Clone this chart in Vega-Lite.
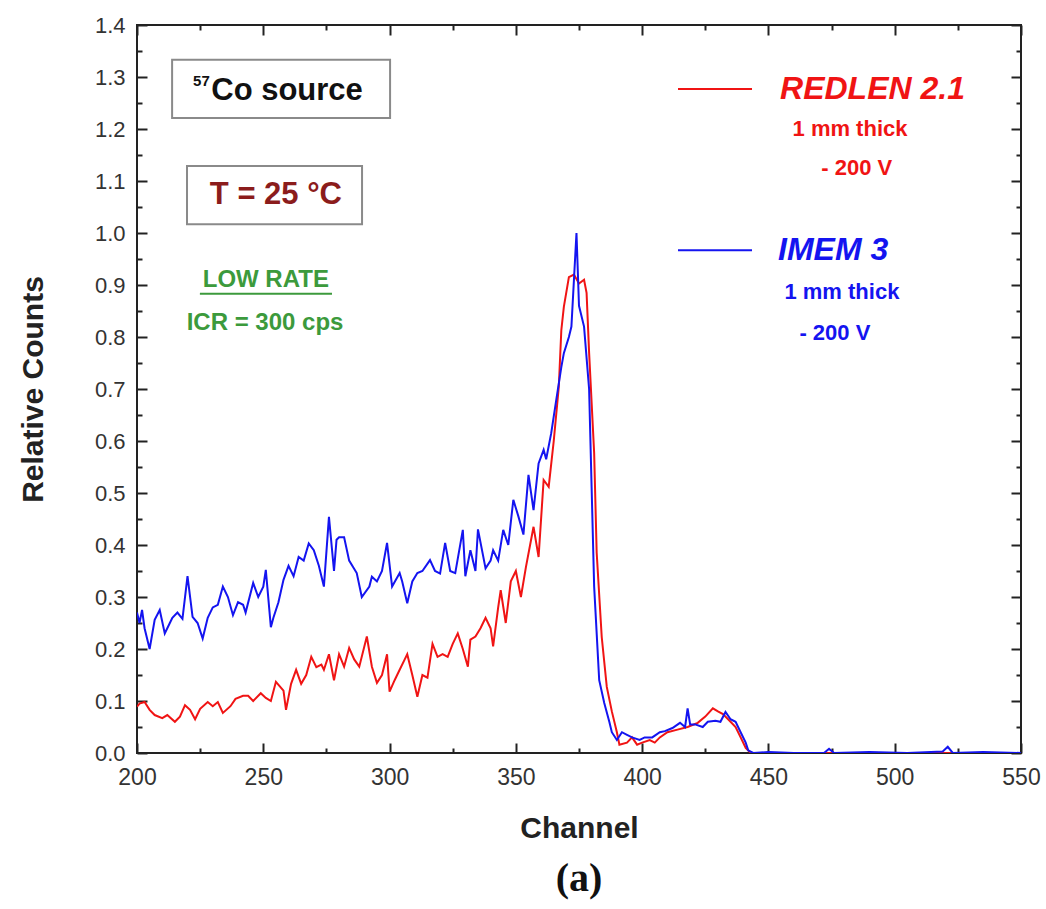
{
  "$schema": "https://vega.github.io/schema/vega-lite/v6.json",
  "width": 884,
  "height": 728,
  "autosize": "none",
  "padding": {"left": 137, "top": 25, "right": 25, "bottom": 156},
  "background": "white",
  "config": {"view": {"stroke": "#222", "strokeWidth": 2}, "font": "Liberation Sans"},
  "title": {"text": "(a)", "orient": "bottom", "font": "Liberation Serif", "fontSize": 40, "fontWeight": "bold", "offset": 16, "color": "#111"},
  "datasets": {
    "spectra": [
      {"detector": "REDLEN", "channel": 200, "counts": 0.089},
      {"detector": "REDLEN", "channel": 201, "counts": 0.095},
      {"detector": "REDLEN", "channel": 203, "counts": 0.098},
      {"detector": "REDLEN", "channel": 205, "counts": 0.083},
      {"detector": "REDLEN", "channel": 207, "counts": 0.073},
      {"detector": "REDLEN", "channel": 210, "counts": 0.067},
      {"detector": "REDLEN", "channel": 212, "counts": 0.073},
      {"detector": "REDLEN", "channel": 215, "counts": 0.06},
      {"detector": "REDLEN", "channel": 217, "counts": 0.07},
      {"detector": "REDLEN", "channel": 219, "counts": 0.092},
      {"detector": "REDLEN", "channel": 221, "counts": 0.083},
      {"detector": "REDLEN", "channel": 223, "counts": 0.065},
      {"detector": "REDLEN", "channel": 225, "counts": 0.085},
      {"detector": "REDLEN", "channel": 228, "counts": 0.098},
      {"detector": "REDLEN", "channel": 230, "counts": 0.09},
      {"detector": "REDLEN", "channel": 232, "counts": 0.098},
      {"detector": "REDLEN", "channel": 234, "counts": 0.077},
      {"detector": "REDLEN", "channel": 237, "counts": 0.09},
      {"detector": "REDLEN", "channel": 239, "counts": 0.104},
      {"detector": "REDLEN", "channel": 242, "counts": 0.11},
      {"detector": "REDLEN", "channel": 244, "counts": 0.11},
      {"detector": "REDLEN", "channel": 246, "counts": 0.1},
      {"detector": "REDLEN", "channel": 249, "counts": 0.115},
      {"detector": "REDLEN", "channel": 251, "counts": 0.106},
      {"detector": "REDLEN", "channel": 253, "counts": 0.1},
      {"detector": "REDLEN", "channel": 255, "counts": 0.137},
      {"detector": "REDLEN", "channel": 258, "counts": 0.12},
      {"detector": "REDLEN", "channel": 259, "counts": 0.083},
      {"detector": "REDLEN", "channel": 261, "counts": 0.133},
      {"detector": "REDLEN", "channel": 263, "counts": 0.16},
      {"detector": "REDLEN", "channel": 265, "counts": 0.133},
      {"detector": "REDLEN", "channel": 267, "counts": 0.15},
      {"detector": "REDLEN", "channel": 269, "counts": 0.185},
      {"detector": "REDLEN", "channel": 271, "counts": 0.165},
      {"detector": "REDLEN", "channel": 273, "counts": 0.17},
      {"detector": "REDLEN", "channel": 274, "counts": 0.16},
      {"detector": "REDLEN", "channel": 276, "counts": 0.19},
      {"detector": "REDLEN", "channel": 278, "counts": 0.14},
      {"detector": "REDLEN", "channel": 280, "counts": 0.19},
      {"detector": "REDLEN", "channel": 282, "counts": 0.166},
      {"detector": "REDLEN", "channel": 284, "counts": 0.202},
      {"detector": "REDLEN", "channel": 286, "counts": 0.18},
      {"detector": "REDLEN", "channel": 288, "counts": 0.166},
      {"detector": "REDLEN", "channel": 291, "counts": 0.224},
      {"detector": "REDLEN", "channel": 293, "counts": 0.166},
      {"detector": "REDLEN", "channel": 295, "counts": 0.135},
      {"detector": "REDLEN", "channel": 297, "counts": 0.15},
      {"detector": "REDLEN", "channel": 299, "counts": 0.19},
      {"detector": "REDLEN", "channel": 300, "counts": 0.118},
      {"detector": "REDLEN", "channel": 302, "counts": 0.14},
      {"detector": "REDLEN", "channel": 304, "counts": 0.16},
      {"detector": "REDLEN", "channel": 306, "counts": 0.18},
      {"detector": "REDLEN", "channel": 307, "counts": 0.19},
      {"detector": "REDLEN", "channel": 309, "counts": 0.15},
      {"detector": "REDLEN", "channel": 311, "counts": 0.108},
      {"detector": "REDLEN", "channel": 313, "counts": 0.15},
      {"detector": "REDLEN", "channel": 315, "counts": 0.145},
      {"detector": "REDLEN", "channel": 317, "counts": 0.21},
      {"detector": "REDLEN", "channel": 319, "counts": 0.185},
      {"detector": "REDLEN", "channel": 321, "counts": 0.19},
      {"detector": "REDLEN", "channel": 323, "counts": 0.185},
      {"detector": "REDLEN", "channel": 325, "counts": 0.21},
      {"detector": "REDLEN", "channel": 327, "counts": 0.23},
      {"detector": "REDLEN", "channel": 329, "counts": 0.2},
      {"detector": "REDLEN", "channel": 331, "counts": 0.166},
      {"detector": "REDLEN", "channel": 332, "counts": 0.218},
      {"detector": "REDLEN", "channel": 334, "counts": 0.224},
      {"detector": "REDLEN", "channel": 336, "counts": 0.24},
      {"detector": "REDLEN", "channel": 338, "counts": 0.26},
      {"detector": "REDLEN", "channel": 340, "counts": 0.24},
      {"detector": "REDLEN", "channel": 341, "counts": 0.205},
      {"detector": "REDLEN", "channel": 343, "counts": 0.28},
      {"detector": "REDLEN", "channel": 344, "counts": 0.313},
      {"detector": "REDLEN", "channel": 346, "counts": 0.25},
      {"detector": "REDLEN", "channel": 348, "counts": 0.33},
      {"detector": "REDLEN", "channel": 350, "counts": 0.35},
      {"detector": "REDLEN", "channel": 352, "counts": 0.3},
      {"detector": "REDLEN", "channel": 354, "counts": 0.358},
      {"detector": "REDLEN", "channel": 357, "counts": 0.435},
      {"detector": "REDLEN", "channel": 359, "counts": 0.377},
      {"detector": "REDLEN", "channel": 361, "counts": 0.525},
      {"detector": "REDLEN", "channel": 363, "counts": 0.512},
      {"detector": "REDLEN", "channel": 365, "counts": 0.6},
      {"detector": "REDLEN", "channel": 367, "counts": 0.704},
      {"detector": "REDLEN", "channel": 368, "counts": 0.813},
      {"detector": "REDLEN", "channel": 369, "counts": 0.858},
      {"detector": "REDLEN", "channel": 371, "counts": 0.915},
      {"detector": "REDLEN", "channel": 373, "counts": 0.92},
      {"detector": "REDLEN", "channel": 375, "counts": 0.903},
      {"detector": "REDLEN", "channel": 377, "counts": 0.91},
      {"detector": "REDLEN", "channel": 378, "counts": 0.885},
      {"detector": "REDLEN", "channel": 379, "counts": 0.77},
      {"detector": "REDLEN", "channel": 381, "counts": 0.577},
      {"detector": "REDLEN", "channel": 382, "counts": 0.385},
      {"detector": "REDLEN", "channel": 384, "counts": 0.223},
      {"detector": "REDLEN", "channel": 386, "counts": 0.127},
      {"detector": "REDLEN", "channel": 388, "counts": 0.08},
      {"detector": "REDLEN", "channel": 390, "counts": 0.04},
      {"detector": "REDLEN", "channel": 391, "counts": 0.016},
      {"detector": "REDLEN", "channel": 394, "counts": 0.02},
      {"detector": "REDLEN", "channel": 396, "counts": 0.03},
      {"detector": "REDLEN", "channel": 398, "counts": 0.016},
      {"detector": "REDLEN", "channel": 400, "counts": 0.02},
      {"detector": "REDLEN", "channel": 403, "counts": 0.025},
      {"detector": "REDLEN", "channel": 405, "counts": 0.02},
      {"detector": "REDLEN", "channel": 407, "counts": 0.03},
      {"detector": "REDLEN", "channel": 410, "counts": 0.04},
      {"detector": "REDLEN", "channel": 414, "counts": 0.045},
      {"detector": "REDLEN", "channel": 418, "counts": 0.05},
      {"detector": "REDLEN", "channel": 422, "counts": 0.058},
      {"detector": "REDLEN", "channel": 425, "counts": 0.07},
      {"detector": "REDLEN", "channel": 428, "counts": 0.086},
      {"detector": "REDLEN", "channel": 430, "counts": 0.08},
      {"detector": "REDLEN", "channel": 432, "counts": 0.075},
      {"detector": "REDLEN", "channel": 435, "counts": 0.06},
      {"detector": "REDLEN", "channel": 437, "counts": 0.05},
      {"detector": "REDLEN", "channel": 439, "counts": 0.03},
      {"detector": "REDLEN", "channel": 441, "counts": 0.01},
      {"detector": "REDLEN", "channel": 443, "counts": 0.0},
      {"detector": "REDLEN", "channel": 500, "counts": 0.0},
      {"detector": "REDLEN", "channel": 550, "counts": 0.0},
      {"detector": "IMEM", "channel": 200, "counts": 0.27},
      {"detector": "IMEM", "channel": 201, "counts": 0.25},
      {"detector": "IMEM", "channel": 202, "counts": 0.275},
      {"detector": "IMEM", "channel": 203, "counts": 0.24},
      {"detector": "IMEM", "channel": 205, "counts": 0.2},
      {"detector": "IMEM", "channel": 207, "counts": 0.256},
      {"detector": "IMEM", "channel": 209, "counts": 0.275},
      {"detector": "IMEM", "channel": 211, "counts": 0.23},
      {"detector": "IMEM", "channel": 213, "counts": 0.25},
      {"detector": "IMEM", "channel": 214, "counts": 0.26},
      {"detector": "IMEM", "channel": 216, "counts": 0.27},
      {"detector": "IMEM", "channel": 218, "counts": 0.258},
      {"detector": "IMEM", "channel": 220, "counts": 0.34},
      {"detector": "IMEM", "channel": 222, "counts": 0.262},
      {"detector": "IMEM", "channel": 224, "counts": 0.25},
      {"detector": "IMEM", "channel": 226, "counts": 0.22},
      {"detector": "IMEM", "channel": 228, "counts": 0.26},
      {"detector": "IMEM", "channel": 230, "counts": 0.28},
      {"detector": "IMEM", "channel": 232, "counts": 0.285},
      {"detector": "IMEM", "channel": 234, "counts": 0.32},
      {"detector": "IMEM", "channel": 236, "counts": 0.3},
      {"detector": "IMEM", "channel": 238, "counts": 0.265},
      {"detector": "IMEM", "channel": 240, "counts": 0.29},
      {"detector": "IMEM", "channel": 242, "counts": 0.285},
      {"detector": "IMEM", "channel": 243, "counts": 0.27},
      {"detector": "IMEM", "channel": 246, "counts": 0.327},
      {"detector": "IMEM", "channel": 248, "counts": 0.3},
      {"detector": "IMEM", "channel": 250, "counts": 0.32},
      {"detector": "IMEM", "channel": 251, "counts": 0.352},
      {"detector": "IMEM", "channel": 253, "counts": 0.242},
      {"detector": "IMEM", "channel": 254, "counts": 0.26},
      {"detector": "IMEM", "channel": 256, "counts": 0.29},
      {"detector": "IMEM", "channel": 258, "counts": 0.333},
      {"detector": "IMEM", "channel": 260, "counts": 0.36},
      {"detector": "IMEM", "channel": 262, "counts": 0.34},
      {"detector": "IMEM", "channel": 264, "counts": 0.377},
      {"detector": "IMEM", "channel": 266, "counts": 0.37},
      {"detector": "IMEM", "channel": 268, "counts": 0.403},
      {"detector": "IMEM", "channel": 270, "counts": 0.39},
      {"detector": "IMEM", "channel": 272, "counts": 0.36},
      {"detector": "IMEM", "channel": 274, "counts": 0.32},
      {"detector": "IMEM", "channel": 276, "counts": 0.454},
      {"detector": "IMEM", "channel": 278, "counts": 0.35},
      {"detector": "IMEM", "channel": 279, "counts": 0.41},
      {"detector": "IMEM", "channel": 280, "counts": 0.415},
      {"detector": "IMEM", "channel": 282, "counts": 0.415},
      {"detector": "IMEM", "channel": 284, "counts": 0.37},
      {"detector": "IMEM", "channel": 287, "counts": 0.346},
      {"detector": "IMEM", "channel": 289, "counts": 0.3},
      {"detector": "IMEM", "channel": 292, "counts": 0.32},
      {"detector": "IMEM", "channel": 293, "counts": 0.339},
      {"detector": "IMEM", "channel": 295, "counts": 0.33},
      {"detector": "IMEM", "channel": 297, "counts": 0.35},
      {"detector": "IMEM", "channel": 299, "counts": 0.404},
      {"detector": "IMEM", "channel": 301, "counts": 0.32},
      {"detector": "IMEM", "channel": 304, "counts": 0.346},
      {"detector": "IMEM", "channel": 305, "counts": 0.33},
      {"detector": "IMEM", "channel": 307, "counts": 0.288},
      {"detector": "IMEM", "channel": 309, "counts": 0.33},
      {"detector": "IMEM", "channel": 311, "counts": 0.346},
      {"detector": "IMEM", "channel": 313, "counts": 0.35},
      {"detector": "IMEM", "channel": 316, "counts": 0.371},
      {"detector": "IMEM", "channel": 318, "counts": 0.35},
      {"detector": "IMEM", "channel": 320, "counts": 0.345},
      {"detector": "IMEM", "channel": 322, "counts": 0.404},
      {"detector": "IMEM", "channel": 324, "counts": 0.35},
      {"detector": "IMEM", "channel": 326, "counts": 0.346},
      {"detector": "IMEM", "channel": 329, "counts": 0.429},
      {"detector": "IMEM", "channel": 330, "counts": 0.34},
      {"detector": "IMEM", "channel": 332, "counts": 0.39},
      {"detector": "IMEM", "channel": 334, "counts": 0.35},
      {"detector": "IMEM", "channel": 335, "counts": 0.43},
      {"detector": "IMEM", "channel": 338, "counts": 0.355},
      {"detector": "IMEM", "channel": 340, "counts": 0.37},
      {"detector": "IMEM", "channel": 341, "counts": 0.39},
      {"detector": "IMEM", "channel": 343, "counts": 0.37},
      {"detector": "IMEM", "channel": 345, "counts": 0.429},
      {"detector": "IMEM", "channel": 347, "counts": 0.4},
      {"detector": "IMEM", "channel": 349, "counts": 0.487},
      {"detector": "IMEM", "channel": 351, "counts": 0.455},
      {"detector": "IMEM", "channel": 353, "counts": 0.42},
      {"detector": "IMEM", "channel": 355, "counts": 0.535},
      {"detector": "IMEM", "channel": 357, "counts": 0.467},
      {"detector": "IMEM", "channel": 359, "counts": 0.557},
      {"detector": "IMEM", "channel": 361, "counts": 0.583},
      {"detector": "IMEM", "channel": 362, "counts": 0.565},
      {"detector": "IMEM", "channel": 364, "counts": 0.615},
      {"detector": "IMEM", "channel": 366, "counts": 0.679},
      {"detector": "IMEM", "channel": 368, "counts": 0.742},
      {"detector": "IMEM", "channel": 369, "counts": 0.769},
      {"detector": "IMEM", "channel": 371, "counts": 0.8},
      {"detector": "IMEM", "channel": 372, "counts": 0.82},
      {"detector": "IMEM", "channel": 374, "counts": 1.0},
      {"detector": "IMEM", "channel": 375, "counts": 0.86},
      {"detector": "IMEM", "channel": 377, "counts": 0.82},
      {"detector": "IMEM", "channel": 379, "counts": 0.7},
      {"detector": "IMEM", "channel": 380, "counts": 0.51},
      {"detector": "IMEM", "channel": 381, "counts": 0.32},
      {"detector": "IMEM", "channel": 383, "counts": 0.14},
      {"detector": "IMEM", "channel": 385, "counts": 0.096},
      {"detector": "IMEM", "channel": 387, "counts": 0.06},
      {"detector": "IMEM", "channel": 388, "counts": 0.04},
      {"detector": "IMEM", "channel": 390, "counts": 0.025},
      {"detector": "IMEM", "channel": 392, "counts": 0.04},
      {"detector": "IMEM", "channel": 394, "counts": 0.035},
      {"detector": "IMEM", "channel": 396, "counts": 0.03},
      {"detector": "IMEM", "channel": 399, "counts": 0.025},
      {"detector": "IMEM", "channel": 401, "counts": 0.03},
      {"detector": "IMEM", "channel": 404, "counts": 0.03},
      {"detector": "IMEM", "channel": 407, "counts": 0.04},
      {"detector": "IMEM", "channel": 409, "counts": 0.042},
      {"detector": "IMEM", "channel": 412, "counts": 0.048},
      {"detector": "IMEM", "channel": 415, "counts": 0.058},
      {"detector": "IMEM", "channel": 417, "counts": 0.05},
      {"detector": "IMEM", "channel": 418, "counts": 0.086},
      {"detector": "IMEM", "channel": 419, "counts": 0.055},
      {"detector": "IMEM", "channel": 421, "counts": 0.055},
      {"detector": "IMEM", "channel": 424, "counts": 0.05},
      {"detector": "IMEM", "channel": 426, "counts": 0.06},
      {"detector": "IMEM", "channel": 429, "counts": 0.062},
      {"detector": "IMEM", "channel": 431, "counts": 0.06},
      {"detector": "IMEM", "channel": 433, "counts": 0.079},
      {"detector": "IMEM", "channel": 435, "counts": 0.065},
      {"detector": "IMEM", "channel": 437, "counts": 0.06},
      {"detector": "IMEM", "channel": 439, "counts": 0.04},
      {"detector": "IMEM", "channel": 441, "counts": 0.02},
      {"detector": "IMEM", "channel": 442, "counts": 0.005},
      {"detector": "IMEM", "channel": 444, "counts": 0.0},
      {"detector": "IMEM", "channel": 450, "counts": 0.002},
      {"detector": "IMEM", "channel": 460, "counts": 0.0},
      {"detector": "IMEM", "channel": 472, "counts": 0.0},
      {"detector": "IMEM", "channel": 474, "counts": 0.008},
      {"detector": "IMEM", "channel": 476, "counts": 0.0},
      {"detector": "IMEM", "channel": 490, "counts": 0.002},
      {"detector": "IMEM", "channel": 505, "counts": 0.0},
      {"detector": "IMEM", "channel": 519, "counts": 0.003},
      {"detector": "IMEM", "channel": 521, "counts": 0.012},
      {"detector": "IMEM", "channel": 523, "counts": 0.0},
      {"detector": "IMEM", "channel": 535, "counts": 0.002},
      {"detector": "IMEM", "channel": 550, "counts": 0.0}
    ],
    "boxes": [
      {"box": "source", "x1": 213.9, "x2": 300.2, "y1": 1.333, "y2": 1.221},
      {"box": "temperature", "x1": 219.8, "x2": 289.1, "y1": 1.129, "y2": 1.017}
    ],
    "legendLines": [
      {"detector": "REDLEN", "x1": 414.2, "x2": 443.5, "y": 1.277},
      {"detector": "IMEM", "x1": 414.2, "x2": 443.5, "y": 0.967}
    ],
    "legendNames": [
      {"detector": "REDLEN", "label": "REDLEN 2.1", "channel": 454.6, "counts": 1.277},
      {"detector": "IMEM", "label": "IMEM  3", "channel": 453.8, "counts": 0.967}
    ],
    "legendNotes": [
      {"detector": "REDLEN", "label": "1 mm thick", "channel": 482.3, "counts": 1.2},
      {"detector": "REDLEN", "label": "- 200 V", "channel": 485.0, "counts": 1.125},
      {"detector": "IMEM", "label": "1 mm thick", "channel": 479.1, "counts": 0.887},
      {"detector": "IMEM", "label": "- 200 V", "channel": 476.3, "counts": 0.808}
    ],
    "greenNotes": [
      {"label": "LOW RATE", "channel": 251.0, "counts": 0.91},
      {"label": "ICR = 300 cps", "channel": 250.7, "counts": 0.827}
    ],
    "underline": [
      {"x1": 224.9, "x2": 277.2, "y": 0.883}
    ]
  },
  "layer": [
    {
      "data": {"name": "spectra"},
      "transform": [{"filter": "datum.detector === 'REDLEN'"}],
      "mark": {"type": "line", "strokeWidth": 2, "clip": true},
      "encoding": {
        "x": {"field": "channel", "type": "quantitative",
          "scale": {"domain": [200, 550], "nice": false, "zero": false},
          "axis": {"orient": "bottom", "values": [200, 225, 250, 275, 300, 325, 350, 375, 400, 425, 450, 475, 500, 525, 550],
            "labelExpr": "datum.value % 50 === 0 ? datum.label : ''", "labelFlush": false,
            "tickSize": {"condition": {"test": "datum.value % 50 === 0", "value": -10}, "value": -5},
            "tickColor": "#222", "tickWidth": 2, "domain": false, "grid": false,
            "labelFontSize": 23, "labelColor": "#333", "labelPadding": 23,
            "title": "Channel", "titleFontSize": 30, "titleFontWeight": "bold", "titleColor": "#222", "titlePadding": 24}},
        "y": {"field": "counts", "type": "quantitative",
          "scale": {"domain": [0, 1.4], "nice": false, "zero": false},
          "axis": {"orient": "left", "values": [0, 0.05, 0.1, 0.15, 0.2, 0.25, 0.3, 0.35, 0.4, 0.45, 0.5, 0.55, 0.6, 0.65, 0.7, 0.75, 0.8, 0.85, 0.9, 0.95, 1.0, 1.05, 1.1, 1.15, 1.2, 1.25, 1.3, 1.35, 1.4],
            "labelExpr": "round(datum.value * 100) % 10 === 0 ? format(datum.value, '.1f') : ''", "labelFlush": false,
            "tickSize": {"condition": {"test": "round(datum.value * 100) % 10 === 0", "value": -10}, "value": -5},
            "tickColor": "#222", "tickWidth": 2, "domain": false, "grid": false,
            "labelFontSize": 22, "labelColor": "#333", "labelPadding": 22,
            "title": "Relative Counts", "titleFontSize": 30, "titleFontWeight": "bold", "titleColor": "#222", "titlePadding": 46}},
        "color": {"field": "detector", "type": "nominal", "scale": {"domain": ["REDLEN", "IMEM"], "range": ["#f01414", "#1414f0"]}, "legend": null}
      }
    },
    {
      "data": {"name": "spectra"},
      "transform": [{"filter": "datum.detector === 'IMEM'"}],
      "mark": {"type": "line", "strokeWidth": 2, "clip": true},
      "encoding": {
        "x": {"field": "channel", "type": "quantitative",
          "axis": {"orient": "top", "values": [200, 225, 250, 275, 300, 325, 350, 375, 400, 425, 450, 475, 500, 525, 550],
            "labels": false,
            "tickSize": {"condition": {"test": "datum.value % 50 === 0", "value": -10}, "value": -5},
            "tickColor": "#222", "tickWidth": 2, "domain": false, "grid": false, "title": null}},
        "y": {"field": "counts", "type": "quantitative",
          "axis": {"orient": "right", "values": [0, 0.05, 0.1, 0.15, 0.2, 0.25, 0.3, 0.35, 0.4, 0.45, 0.5, 0.55, 0.6, 0.65, 0.7, 0.75, 0.8, 0.85, 0.9, 0.95, 1.0, 1.05, 1.1, 1.15, 1.2, 1.25, 1.3, 1.35, 1.4],
            "labels": false,
            "tickSize": {"condition": {"test": "round(datum.value * 100) % 10 === 0", "value": -10}, "value": -5},
            "tickColor": "#222", "tickWidth": 2, "domain": false, "grid": false, "title": null}},
        "color": {"field": "detector", "type": "nominal", "legend": null}
      }
    },
    {
      "data": {"name": "boxes"},
      "mark": {"type": "rect", "fill": "white", "stroke": "#8a8a8a", "strokeWidth": 2},
      "encoding": {
        "x": {"field": "x1", "type": "quantitative", "axis": null},
        "x2": {"field": "x2"},
        "y": {"field": "y1", "type": "quantitative", "axis": null},
        "y2": {"field": "y2"}
      }
    },
    {
      "data": {"values": [{"label": "57", "channel": 222.2, "counts": 1.292}]},
      "mark": {"type": "text", "fontSize": 15, "fontWeight": "bold", "color": "#111", "align": "left", "baseline": "middle"},
      "encoding": {
        "x": {"field": "channel", "type": "quantitative", "axis": null},
        "y": {"field": "counts", "type": "quantitative", "axis": null},
        "text": {"field": "label"}
      }
    },
    {
      "data": {"values": [{"label": "Co source", "channel": 229.4, "counts": 1.273}]},
      "mark": {"type": "text", "fontSize": 31, "fontWeight": "bold", "color": "#111", "align": "left", "baseline": "middle"},
      "encoding": {
        "x": {"field": "channel", "type": "quantitative", "axis": null},
        "y": {"field": "counts", "type": "quantitative", "axis": null},
        "text": {"field": "label"}
      }
    },
    {
      "data": {"values": [{"label": "T = 25 °C", "channel": 255.0, "counts": 1.073}]},
      "mark": {"type": "text", "fontSize": 31, "fontWeight": "bold", "color": "#8b1c1c", "align": "center", "baseline": "middle"},
      "encoding": {
        "x": {"field": "channel", "type": "quantitative", "axis": null},
        "y": {"field": "counts", "type": "quantitative", "axis": null},
        "text": {"field": "label"}
      }
    },
    {
      "data": {"name": "greenNotes"},
      "mark": {"type": "text", "fontSize": 24, "fontWeight": "bold", "color": "#3c9a3c", "align": "center", "baseline": "middle"},
      "encoding": {
        "x": {"field": "channel", "type": "quantitative", "axis": null},
        "y": {"field": "counts", "type": "quantitative", "axis": null},
        "text": {"field": "label"}
      }
    },
    {
      "data": {"name": "underline"},
      "mark": {"type": "rule", "color": "#3c9a3c", "strokeWidth": 2},
      "encoding": {
        "x": {"field": "x1", "type": "quantitative", "axis": null},
        "x2": {"field": "x2"},
        "y": {"field": "y", "type": "quantitative", "axis": null}
      }
    },
    {
      "data": {"name": "legendLines"},
      "mark": {"type": "rule", "strokeWidth": 2},
      "encoding": {
        "x": {"field": "x1", "type": "quantitative", "axis": null},
        "x2": {"field": "x2"},
        "y": {"field": "y", "type": "quantitative", "axis": null},
        "color": {"field": "detector", "type": "nominal", "legend": null}
      }
    },
    {
      "data": {"name": "legendNames"},
      "mark": {"type": "text", "fontSize": 32, "fontWeight": "bold", "fontStyle": "italic", "align": "left", "baseline": "middle"},
      "encoding": {
        "x": {"field": "channel", "type": "quantitative", "axis": null},
        "y": {"field": "counts", "type": "quantitative", "axis": null},
        "text": {"field": "label"},
        "color": {"field": "detector", "type": "nominal", "legend": null}
      }
    },
    {
      "data": {"name": "legendNotes"},
      "mark": {"type": "text", "fontSize": 22, "fontWeight": "bold", "align": "center", "baseline": "middle"},
      "encoding": {
        "x": {"field": "channel", "type": "quantitative", "axis": null},
        "y": {"field": "counts", "type": "quantitative", "axis": null},
        "text": {"field": "label"},
        "color": {"field": "detector", "type": "nominal", "legend": null}
      }
    }
  ],
  "resolve": {"axis": {"x": "independent", "y": "independent"}}
}
